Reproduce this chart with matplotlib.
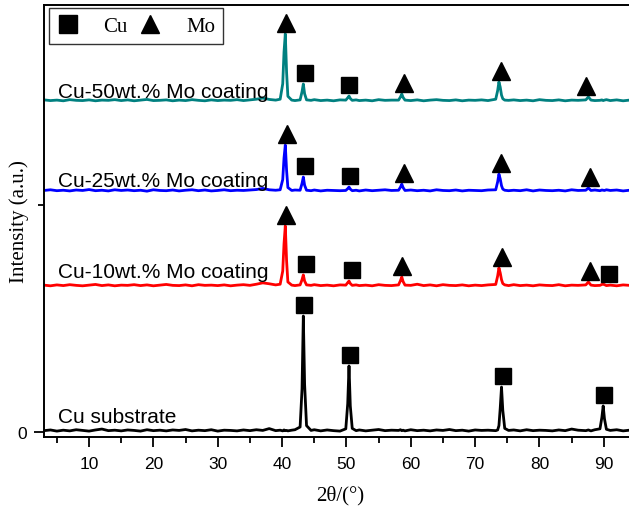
import matplotlib
matplotlib.use('Agg')
import matplotlib.pyplot as plt
from matplotlib.lines import Line2D
from matplotlib.ticker import MultipleLocator, FixedLocator
import numpy as np

# shared 2theta grid (deg): 1 deg steps on the background, finer around peaks
two_theta = [3, 4, 5, 6, 7, 8, 9, 10, 11, 12, 13, 14, 15, 16, 17, 18, 19, 20, 21, 22,
             23, 24, 25, 26, 27, 28, 29, 30, 31, 32, 33, 34, 35, 36, 37, 38, 39,
             39.7, 40.1, 40.3, 40.5, 40.7, 40.9, 41.5, 42,
             42.8, 43.1, 43.3, 43.5, 43.8,
             44.5, 45, 46, 47, 48, 49,
             49.9, 50.2, 50.4, 50.6, 50.9,
             51.5, 52, 53, 54, 55, 56, 57,
             58.1, 58.4, 58.6, 58.8, 59.1,
             60, 61, 62, 63, 64, 65, 66, 67, 68, 69, 70, 71, 72,
             73.2, 73.5, 73.7, 73.9, 74.1, 74.3, 74.6, 75.2,
             76, 77, 78, 79, 80, 81, 82, 83, 84, 85, 86,
             87.2, 87.6, 88.0, 88.6,
             89.4, 89.7, 89.9, 90.1, 90.4,
             91, 92, 93, 94]

cu_substrate = [6, 9, 4, 8, 5, 10, 7, 4, 9, 13, 6, 8, 5, 9, 7, 4, 10, 6, 8, 5,
                9, 7, 11, 5, 8, 6, 10, 4, 8, 7, 5, 9, 6, 10, 7, 15, 6,
                8, 5, 9, 6, 7, 5, 8, 10,
                22, 190, 511, 210, 28,
                7, 10, 5, 9, 6, 4,
                14, 125, 291, 115, 16,
                6, 9, 5, 8, 11, 6, 8,
                7, 10, 6, 8, 5,
                10, 6, 8, 5, 9, 7, 11, 6, 8, 4, 9, 7, 8,
                6, 9, 28, 105, 198, 95, 16, 7,
                9, 5, 10, 6, 8, 7, 5, 9, 6, 13, 8,
                6, 9, 5, 10,
                14, 65, 115, 58, 12,
                7, 10, 5, 8]

mo10 = [8, 5, 9, 6, 10, 7, 5, 8, 11, 6, 9, 5, 8, 7, 10, 6, 9, 5, 8, 11,
        7, 6, 9, 5, 10, 7, 8, 6, 9, 5, 8, 10, 7, 12, 18, 14, 9,
        12, 70, 190, 269, 115, 22, 8, 6,
        9, 32, 53, 26, 9,
        7, 10, 6, 8, 5, 9,
        8, 19, 26, 15, 7,
        9, 6, 8, 5, 10, 7, 6,
        9, 28, 44, 24, 8,
        7, 12, 6, 9, 5, 10, 7, 6, 9, 5, 8, 6, 9,
        11, 48, 84, 62, 32, 15, 9, 6,
        10, 6, 8, 5, 9, 7, 6, 10, 5, 8, 7,
        9, 22, 8, 6,
        7, 11, 13, 10, 6,
        8, 5, 9, 7]

mo25 = [7, 10, 6, 8, 5, 9, 7, 11, 6, 8, 5, 10, 7, 9, 6, 8, 4, 10, 7, 6,
        9, 5, 8, 10, 6, 9, 5, 7, 10, 6, 8, 7, 9, 11, 16, 10, 8,
        10, 55, 150, 207, 95, 20, 7, 9,
        8, 38, 66, 30, 8,
        6, 9, 5, 8, 7, 6,
        7, 15, 22, 13, 6,
        8, 5, 9, 6, 8, 10, 7,
        8, 22, 35, 20, 7,
        9, 6, 8, 5, 10, 7, 6, 9, 5, 8, 7, 6, 9,
        10, 45, 79, 58, 28, 13, 8, 6,
        8, 6, 10, 5, 9, 7, 6, 8, 5, 10, 7,
        8, 18, 7, 9,
        6, 9, 8, 7, 10,
        7, 9, 5, 8]

mo50 = [9, 6, 8, 5, 10, 7, 6, 9, 5, 8, 7, 10, 6, 9, 5, 8, 11, 6, 7, 9,
        5, 8, 6, 10, 7, 5, 9, 6, 8, 7, 10, 6, 9, 12, 17, 11, 8,
        12, 80, 220, 300, 130, 25, 8, 6,
        9, 45, 79, 36, 9,
        7, 10, 6, 8, 5, 9,
        8, 18, 26, 15, 7,
        9, 6, 8, 5, 10, 7, 8,
        8, 22, 35, 20, 8,
        6, 9, 5, 8, 10, 7, 6, 9, 5, 8, 7, 9, 6,
        12, 50, 88, 65, 30, 14, 8, 7,
        9, 6, 8, 5, 10, 7, 6, 9, 5, 8, 7,
        9, 22, 8, 6,
        7, 9, 6, 8, 10,
        6, 9, 5, 8]

labels = ['Cu substrate', 'Cu-10wt.% Mo coating', 'Cu-25wt.% Mo coating', 'Cu-50wt.% Mo coating']
offsets = [0, 639, 1057, 1454]

# phase marks (2theta of each symbol)
cu_marks = [[43.4, 50.5, 74.3, 90.0], [43.7, 50.8, 90.8], [43.5, 50.6], [43.5, 50.4]]
mo_marks = [[], [40.6, 58.7, 74.1, 87.8], [40.8, 58.9, 74.0, 87.8], [40.6, 58.9, 74.0, 87.3]]

series = [cu_substrate, mo10, mo25, mo50]
colors = ['black', '#ff0000', '#0000ff', '#008080']
label_pads = [44, 44, 26, 20]

sans = ['Liberation Sans', 'DejaVu Sans']
serif = ['Liberation Serif', 'DejaVu Serif']


def peak_top(x, y, pos, half=0.8):
    x = np.asarray(x)
    y = np.asarray(y)
    sel = np.abs(x - pos) <= half
    return y[sel].max()


fig = plt.figure(figsize=(6.29, 5.10), dpi=100)
ax = fig.add_axes([44 / 629, 1 - 438 / 510, 592 / 629, 432 / 510])

gap = 48
for y, off, col, lab, pad, cm, mm in zip(series, offsets, colors, labels, label_pads, cu_marks, mo_marks):
    yy = np.asarray(y) + off
    ax.plot(two_theta, yy, color=col, lw=2.0, solid_joinstyle='round')
    ax.text(5.2, off + pad, lab, family=sans, fontsize=15, va='baseline', ha='left')
    for p in cm:
        ax.plot(p, off + peak_top(two_theta, y, p) + gap, 's', color='black', ms=11.5)
    for p in mm:
        ax.plot(p, off + peak_top(two_theta, y, p) + gap, '^', color='black', ms=12.5)

ax.set_xlim(3, 95)
ax.set_ylim(-22, 1881)

ax.xaxis.set_major_locator(MultipleLocator(10))
ax.xaxis.set_minor_locator(MultipleLocator(5))
ax.yaxis.set_major_locator(FixedLocator([0]))
ax.yaxis.set_minor_locator(FixedLocator([1000]))
ax.tick_params(which='major', direction='out', length=7, width=1.3, labelsize=12.5, pad=7)
ax.tick_params(which='minor', direction='out', length=4, width=1.3)
ax.tick_params(axis='y', which='major', pad=5)
for t in ax.get_xticklabels() + ax.get_yticklabels():
    t.set_family(sans)

for s in ax.spines.values():
    s.set_linewidth(1.4)

ax.set_xlabel('2θ/(°)', family=serif, fontsize=15, labelpad=10)
ax.set_ylabel('Intensity (a.u.)', family=serif, fontsize=15)
ax.yaxis.set_label_coords(-0.026, 0.5)

handles = [Line2D([], [], marker='s', ls='none', color='black', ms=12.5),
           Line2D([], [], marker='^', ls='none', color='black', ms=13.5)]
leg = ax.legend(handles, ['Cu', 'Mo'], ncol=2, loc='upper left',
                bbox_to_anchor=(0.0085, 0.993), borderaxespad=0,
                prop={'family': serif, 'size': 15}, frameon=True, fancybox=False,
                edgecolor='black', handlelength=1.0, handletextpad=1.2,
                columnspacing=0.6, borderpad=0.4)
leg.get_frame().set_linewidth(1.0)

fig.savefig('out.png', dpi=100)
